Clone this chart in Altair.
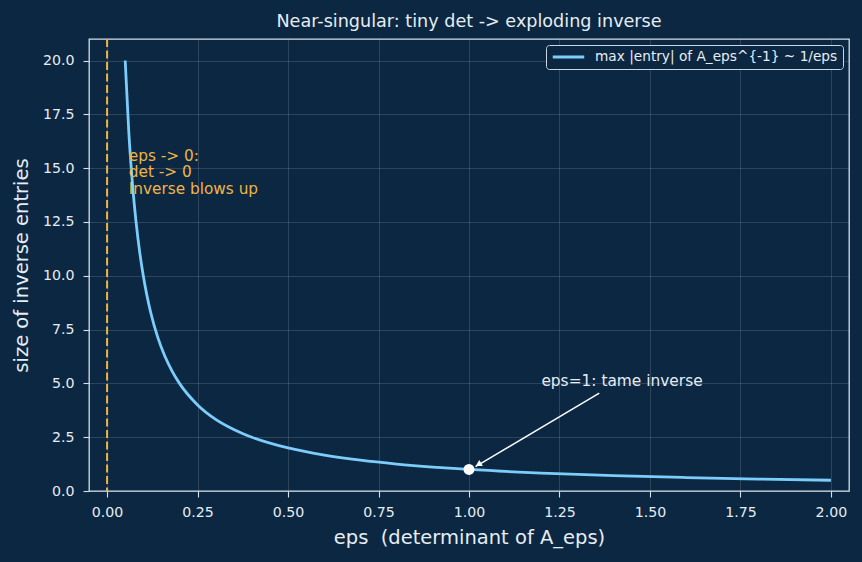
import altair as alt
import pandas as pd

# Sampled curve: eps and max |entry| of the inverse
eps = [0.05, 0.06, 0.07, 0.08, 0.09, 0.10, 0.11, 0.12, 0.14, 0.16, 0.18, 0.20,
       0.25, 0.30, 0.35, 0.40, 0.50, 0.60, 0.70, 0.80, 0.90, 1.00, 1.20,
       1.40, 1.60, 1.80, 2.00]
inv_size = [20.0, 16.67, 14.29, 12.5, 11.11, 10.0, 9.09, 8.33, 7.14, 6.25, 5.56, 5.0,
            4.0, 3.33, 2.86, 2.5, 2.0, 1.67, 1.43, 1.25, 1.11, 1.0, 0.83,
            0.71, 0.625, 0.556, 0.5]
series_name = "max |entry| of A_eps^{-1} ~ 1/eps"

x_ticks = [0.0, 0.25, 0.5, 0.75, 1.0, 1.25, 1.5, 1.75, 2.0]
y_ticks = [0.0, 2.5, 5.0, 7.5, 10.0, 12.5, 15.0, 17.5, 20.0]

# Annotation anchors
tame_point = {"x": 1.0, "y": 1.0}
tame_text = {"x": 1.2, "y": 4.9, "label": "eps=1: tame inverse"}
arrow = {"x": 1.36, "y": 4.55, "x2": 1.018, "y2": 1.13}
blow_text = {"x": 0.06, "y": 15.9,
             "lines": ["eps -> 0:", "det -> 0", "Inverse blows up"]}

BG = "#0c2741"
FG = "#e6edf5"
CURVE = "#7ccdfb"
ORANGE = "#f0b545"
FONT = "DejaVu Sans"

curve_df = pd.DataFrame({"eps": eps, "size": inv_size, "series": series_name})

xs = alt.Scale(domain=[-0.05, 2.05], nice=False, zero=False)
ys = alt.Scale(domain=[0, 21], nice=False)

x_axis = alt.Axis(values=x_ticks, format=".2f",
                  title="eps\u00a0\u00a0(determinant of A_eps)",
                  labelPadding=8, titlePadding=9)
y_axis = alt.Axis(values=y_ticks, format=".1f", title="size of inverse entries",
                  labelPadding=9, titlePadding=11)

# Legend swatch: a horizontal line segment drawn to the right of the symbol centre
swatch_path = "M-1,0H5"

curve = alt.Chart(curve_df).mark_line(strokeWidth=2.8, interpolate="monotone").encode(
    x=alt.X("eps:Q", scale=xs, axis=x_axis),
    y=alt.Y("size:Q", scale=ys, axis=y_axis),
    color=alt.Color(
        "series:N",
        scale=alt.Scale(range=[CURVE]),
        legend=alt.Legend(
            title=None,
            orient="top-right",
            offset=6,
            symbolType=swatch_path,
            symbolStrokeWidth=3,
            symbolSize=110,
            labelColor=FG,
            labelFontSize=13.7,
            labelFont=FONT,
            labelLimit=0,
            labelOffset=30,
            fillColor=BG,
            strokeColor="#c8d6e6",
            cornerRadius=3,
            padding=5,
        ),
    ),
)

vline = alt.Chart(pd.DataFrame({"x": [0.0]})).mark_rule(
    color=ORANGE, strokeDash=[8, 3.5], strokeWidth=2
).encode(x=alt.X("x:Q", scale=xs))

arrow_line = alt.Chart(pd.DataFrame([arrow])).mark_rule(
    color="white", strokeWidth=1.4
).encode(
    x=alt.X("x:Q", scale=xs), y=alt.Y("y:Q", scale=ys),
    x2="x2:Q", y2="y2:Q",
)

arrow_head = alt.Chart(pd.DataFrame([{"x": arrow["x2"] + 0.008, "y": arrow["y2"] + 0.1}])).mark_point(
    shape="triangle-up", filled=True, color="white", size=50, angle=240, opacity=1
).encode(x=alt.X("x:Q", scale=xs), y=alt.Y("y:Q", scale=ys))

dot = alt.Chart(pd.DataFrame([tame_point])).mark_circle(
    color="white", size=120, opacity=1
).encode(x=alt.X("x:Q", scale=xs), y=alt.Y("y:Q", scale=ys))

tame_label = alt.Chart(pd.DataFrame([tame_text])).mark_text(
    align="left", baseline="alphabetic", color=FG, fontSize=15.4, font=FONT
).encode(x=alt.X("x:Q", scale=xs), y=alt.Y("y:Q", scale=ys), text="label:N")

blow_label = alt.Chart(pd.DataFrame([{"x": blow_text["x"], "y": blow_text["y"]}])).mark_text(
    align="left", baseline="top", color=ORANGE, fontSize=15.3, font=FONT,
    lineHeight=16.7, text=blow_text["lines"]
).encode(x=alt.X("x:Q", scale=xs), y=alt.Y("y:Q", scale=ys))

chart = alt.layer(
    vline, curve, arrow_line, arrow_head, dot, tame_label, blow_label
).properties(
    width=760,
    height=452,
    background=BG,
    padding={"left": 89, "top": 39, "right": 13, "bottom": 71},
    autosize=alt.AutoSizeParams(type="none"),
    title=alt.Title(
        "Near-singular: tiny det -> exploding inverse",
        color=FG, fontSize=17.6, font=FONT, fontWeight="normal",
        anchor="middle", offset=7,
    ),
).configure_view(
    fill=BG, stroke="#d4e0ec", strokeWidth=1.3
).configure_axis(
    grid=True,
    gridColor="#ffffff",
    gridOpacity=0.2,
    gridWidth=0.7,
    domain=False,
    tickColor="#d4e0ec",
    tickSize=6,
    tickWidth=1.1,
    labelColor=FG,
    labelFontSize=14.2,
    labelFont=FONT,
    titleColor=FG,
    titleFontSize=19.5,
    titleFont=FONT,
    titleFontWeight="normal",
)

chart.save("out.html", embed_options={"renderer": "svg", "actions": False})
